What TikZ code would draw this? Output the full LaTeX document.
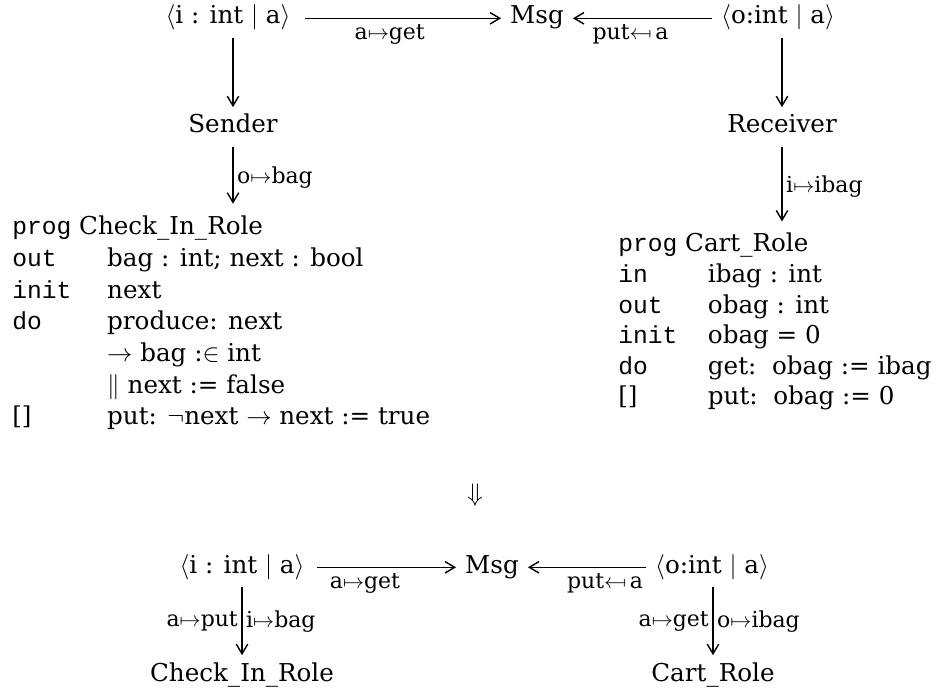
\documentclass[tikz,border=0pt]{standalone}
\usepackage{amsmath,amssymb}
\usepackage{fontspec}
\setmainfont{DejaVu Serif}
\setmonofont{Liberation Mono}
\usepackage{tikz}
\usetikzlibrary{arrows.meta,positioning}
\newcommand{\mapsfromsym}{\mathrel{\leftarrow\mkern-2mu\mapstochar}}

\begin{document}
\begin{tikzpicture}[x=0.02cm,y=-0.02cm,
  obj/.style={font=\fontsize{14}{17}\selectfont,inner sep=2pt,text height=9.5pt,text depth=3pt,anchor=base},
  lbl/.style={font=\fontsize{12.5}{14}\selectfont,inner sep=2pt},
  arr/.style={-{Straight Barb[length=5.5pt,width=6.5pt]},line width=0.8pt,shorten <=3pt,shorten >=3pt},
  progbox/.style={inner sep=0pt,anchor=base west}]
  \useasboundingbox (0,0) rectangle (946,689);
  % upper diagram
  \node[obj] (inT)  at (228,24) {$\langle$i : int $\mid$ a$\rangle$};
  \node[obj] (msgT) at (537,24) {Msg};
  \node[obj] (outT) at (778,24) {$\langle$o:int $\mid$ a$\rangle$};
  \node[obj] (sender)   at (233,133) {Sender};
  \node[obj] (receiver) at (782,133) {Receiver};
  \draw[arr,shorten <=6pt] (inT) -- node[lbl,below=1pt,pos=0.45] {a$\mapsto$get} (msgT);
  \draw[arr] (outT) -- node[lbl,below=1pt,pos=0.58] {put$\mapsfromsym$\ a} (msgT);
  \draw[arr] (sender |- inT.south) -- (sender);
  \draw[arr] (receiver |- outT.south) -- (receiver);
  % the two programs
  \node[progbox] (checkprog) at (12,235) {\fontsize{14}{18}\selectfont
    \begin{tabular}[t]{@{}p{54pt}@{}l@{}}
      \multicolumn{2}{@{}l@{}}{\texttt{prog} Check\_In\_Role}\\
      \texttt{out}  & bag : int; next : bool\\
      \texttt{init} & next\\
      \texttt{do}   & produce: next\\
                    & $\rightarrow$ bag :$\in$ int\\
                    & $\|$ next := false\\
      {[]}          & put: $\neg$next $\rightarrow$ next := true
    \end{tabular}};
  \node[progbox] (cartprog) at (618,252) {\fontsize{14}{17.4}\selectfont
    \begin{tabular}[t]{@{}p{51pt}@{}l@{}}
      \multicolumn{2}{@{}l@{}}{\texttt{prog} Cart\_Role}\\
      \texttt{in}   & ibag : int\\
      \texttt{out}  & obag : int\\
      \texttt{init} & obag = 0\\
      \texttt{do}   & get:\ \ obag := ibag\\
      {[]}          & put:\ \ obag := 0
    \end{tabular}};
  \draw[arr,shorten >=5pt] (sender) -- node[lbl,right] {o$\mapsto$bag} (sender |- checkprog.north);
  \draw[arr,shorten >=5pt] (receiver) -- node[lbl,right] {i$\mapsto$ibag} (receiver |- cartprog.north);
  % refinement step
  \node[font=\fontsize{14}{17}\selectfont] (step) at (475,495) {$\Downarrow$};
  % lower diagram
  \node[obj] (inB)  at (242,573) {$\langle$i : int $\mid$ a$\rangle$};
  \node[obj] (msgB) at (492,573) {Msg};
  \node[obj] (outB) at (712,573) {$\langle$o:int $\mid$ a$\rangle$};
  \node[obj] (checkB) at (242,681) {Check\_In\_Role};
  \node[obj] (cartB)  at (713,681) {Cart\_Role};
  \draw[arr,shorten <=5pt] (inB) -- node[lbl,below=1pt,pos=0.37] {a$\mapsto$get} (msgB);
  \draw[arr] (outB) -- node[lbl,below=1pt,pos=0.36] {put$\mapsfromsym$\ a} (msgB);
  \draw[arr] (checkB |- inB.south) -- node[lbl,left] {a$\mapsto$put} node[lbl,right] {i$\mapsto$bag} (checkB);
  \draw[arr] (cartB |- outB.south) -- node[lbl,left] {a$\mapsto$get} node[lbl,right] {o$\mapsto$ibag} (cartB);
\end{tikzpicture}
\end{document}
